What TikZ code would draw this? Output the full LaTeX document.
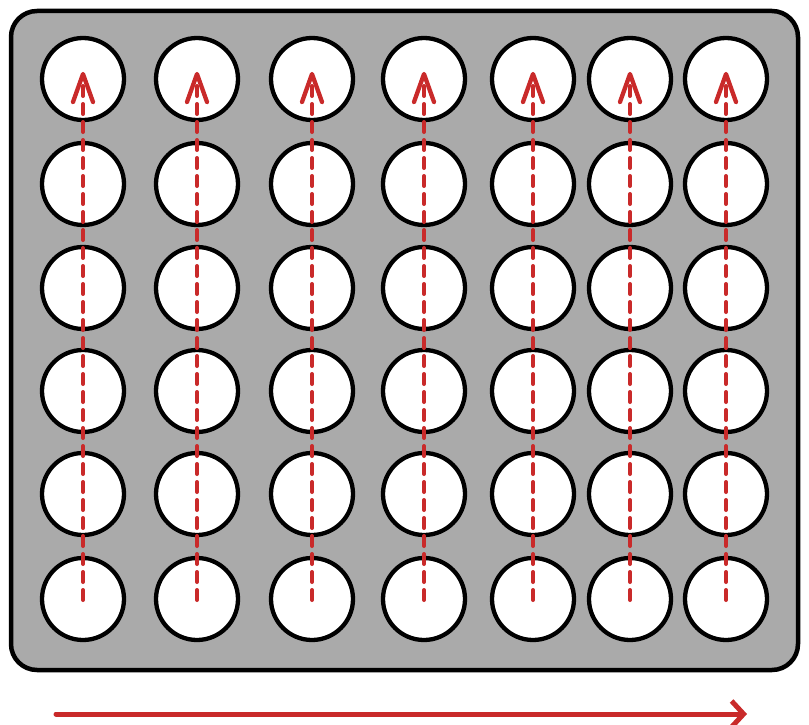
\documentclass[tikz,border=0pt]{standalone}
\usetikzlibrary{arrows.meta}
\definecolor{plate}{HTML}{AAAAAA}
\definecolor{myred}{HTML}{C92A2A}
\begin{document}
\begin{tikzpicture}[x=1pt,y=-1pt,
  well/.style={circle,draw=black,fill=white,line width=4.3pt,minimum size=82pt,inner sep=0pt},
  flow/.style={draw=myred,line width=4pt,dash pattern=on 10pt off 8pt,line cap=round},
  tip/.style={draw=myred,line width=4.3pt,line cap=round,line join=round},
  sweep/.style={draw=myred,line width=5pt,line cap=round,-{Straight Barb[length=12pt,width=26pt,line width=5pt]}}]
\useasboundingbox (0,0) rectangle (809,725);
\draw[fill=plate,line width=4.5pt,rounded corners=26pt] (11,11) rectangle (798,670);
\foreach \x [count=\i] in {83,197,312,424,533,630,726}{
  \foreach \y [count=\j] in {79,184,288,391,494,599}{
    \node[well] (c-\i-\j) at (\x,\y) {};
  }
  \draw[flow] (\x,600) -- (\x,84);
  \draw[tip] (\x-10,102) -- (\x,74) -- (\x+10,102);
}
\coordinate (s) at (56,714);
\coordinate (e) at (747,714);
\draw[sweep] (s) -- (e);
\end{tikzpicture}
\end{document}
